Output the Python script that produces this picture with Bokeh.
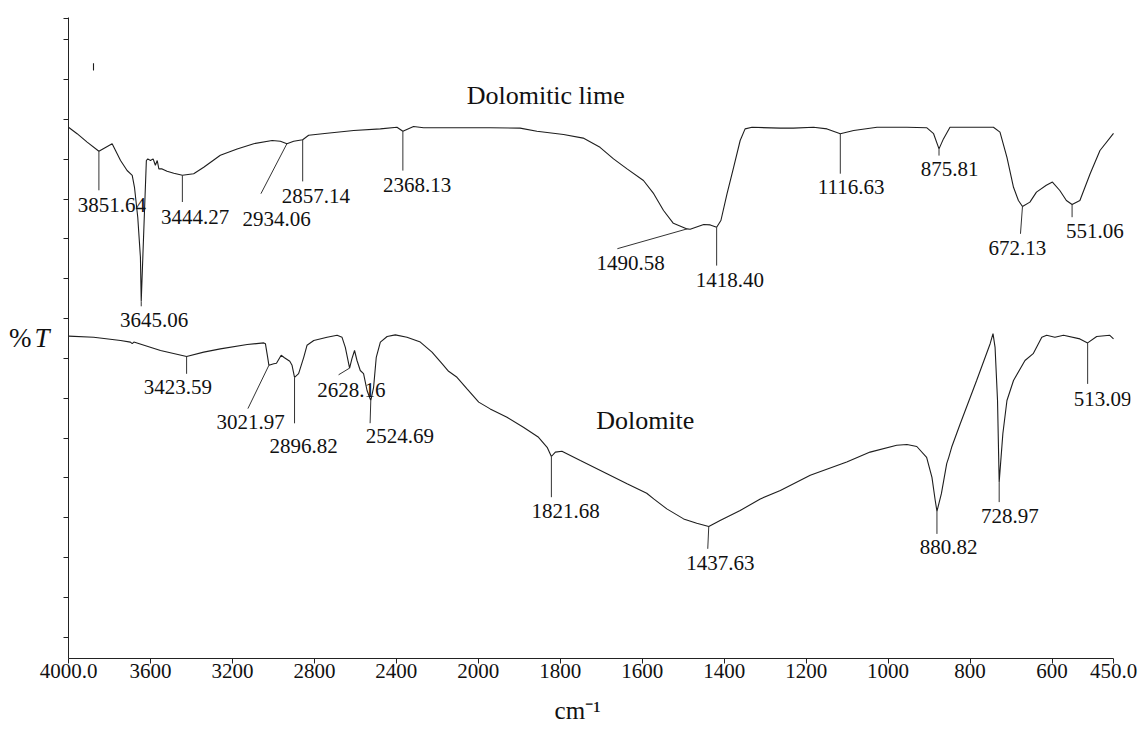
import numpy as np
from bokeh.plotting import figure
from bokeh.models import Range1d, FixedTicker, Label, LabelSet, ColumnDataSource, LinearAxis
from bokeh.core.properties import value
from bokeh.embed import file_html
from bokeh.resources import INLINE

# ---------------- data ----------------
# x axis: wavenumber (cm-1); y axis: %T in arbitrary units
tick_wn = [4000, 3600, 3200, 2800, 2400, 2000, 1800, 1600, 1400, 1200, 1000, 800, 600, 450]
tick_labels = ["4000.0", "3600", "3200", "2800", "2400", "2000", "1800", "1600",
               "1400", "1200", "1000", "800", "600", "450.0"]
x_title = "cm\u207b\u00b9"
y_title_pct = "%"
y_title_T = "T"

lime_name = "Dolomitic lime"
lime_wn = [4000, 3958, 3909, 3851.64, 3787, 3746, 3714, 3689, 3678, 3662, 3649, 3645.06,
           3629, 3620, 3613, 3600, 3587, 3576, 3567, 3559, 3543, 3519, 3486, 3444.27,
           3389, 3340, 3259, 3177, 3096, 3006, 2966, 2934.06, 2901, 2857.14, 2828, 2738,
           2608, 2478, 2397, 2368.13, 2316, 2267, 2153, 1971, 1898, 1857, 1792, 1744,
           1703, 1670, 1637, 1597, 1572, 1548, 1524, 1490.58, 1483, 1450, 1434, 1418.40,
           1408, 1393, 1377, 1361, 1349, 1332, 1263, 1231, 1182, 1149, 1116.63, 1084,
           1027, 954, 906, 889, 875.81, 865, 849, 743, 727, 710, 694, 682, 672.13, 654,
           638, 614, 599, 581, 565, 551.06, 532, 507, 483, 450]
lime_T = [132.8, 131.2, 129.1, 126.8, 128.7, 124.5, 122.0, 120.8, 117.8, 110.3, 100.3, 89.3,
          112.0, 124.5, 124.9, 124.5, 124.9, 123.3, 124.5, 122.4, 122.4, 121.8, 121.3, 120.8,
          121.2, 122.8, 125.8, 127.4, 128.7, 129.5, 129.3, 128.7, 129.3, 129.7, 130.8, 131.3,
          132.0, 132.4, 132.8, 131.8, 133.0, 132.7, 132.7, 132.7, 132.6, 131.8, 131.0, 130.1,
          127.8, 124.9, 122.4, 119.5, 116.2, 112.0, 108.8, 107.4, 107.3, 108.5, 108.4, 107.8,
          109.5, 116.2, 122.8, 129.5, 132.4, 132.8, 132.6, 132.6, 132.8, 132.4, 131.2, 132.0,
          132.8, 132.8, 132.7, 131.2, 127.4, 129.9, 132.8, 132.8, 131.6, 125.3, 117.8, 114.5,
          113.0, 114.1, 116.6, 118.3, 119.1, 117.0, 114.5, 113.5, 114.5, 121.2, 127.0, 131.3]
lime_peaks = [3851.64, 3645.06, 3444.27, 2934.06, 2857.14, 2368.13, 1490.58, 1418.40,
              1116.63, 875.81, 672.13, 551.06]

dolo_name = "Dolomite"
dolo_wn = [4000, 3877, 3746, 3698, 3689, 3681, 3551, 3423.59, 3340, 3259, 3128, 3047, 3039,
           3028, 3021.97, 2998, 2985, 2962, 2946, 2920, 2909, 2896.82, 2877, 2852, 2836, 2803,
           2738, 2689, 2665, 2649, 2628.16, 2617, 2604, 2592, 2576, 2560, 2543, 2524.69, 2511,
           2498, 2478, 2445, 2405, 2348, 2283, 2226, 2177, 2145, 2104, 2055, 1999, 1971, 1930,
           1890, 1853, 1832, 1821.68, 1812, 1796, 1751, 1686, 1637, 1589, 1572, 1540, 1499,
           1467, 1437.63, 1410, 1361, 1312, 1263, 1190, 1101, 1044, 979, 954, 930, 906, 893,
           885, 880.82, 870, 857, 852, 845, 824, 784, 751, 744, 739, 733, 728.97, 720, 710,
           694, 666, 646, 625, 613, 593, 572, 532, 513.09, 491, 459, 450]
dolo_T = [80.6, 80.3, 79.5, 79.1, 78.7, 79.1, 77.0, 75.5, 76.6, 77.4, 78.5, 78.9, 78.7,
          75.3, 73.3, 73.7, 73.8, 75.8, 75.2, 74.3, 73.3, 70.3, 71.2, 75.3, 78.3, 79.5,
          80.3, 80.8, 80.3, 77.8, 72.6, 74.9, 77.0, 74.5, 72.0, 71.2, 67.0, 64.5, 67.8,
          75.3, 79.1, 80.5, 80.9, 80.3, 79.1, 76.6, 73.7, 71.8, 70.3, 67.4, 64.1, 62.4, 60.3,
          57.8, 55.3, 52.8, 50.5, 51.6, 51.8, 49.5, 46.2, 43.7, 41.3, 39.9, 37.4, 34.9,
          33.8, 33.0, 34.5, 37.0, 39.9, 42.0, 45.8, 49.1, 51.6, 53.3, 53.5, 53.0, 50.3, 45.3,
          39.5, 36.8, 41.2, 48.7, 50.3, 52.8, 58.7, 69.5, 78.7, 81.2, 77.8, 64.5, 44.1, 56.2, 64.5,
          69.5, 74.5, 76.2, 80.3, 80.8, 80.3, 80.8, 79.9, 78.9, 80.5, 80.8, 79.9]
dolo_peaks = [3423.59, 3021.97, 2896.82, 2628.16, 2524.69, 1821.68, 1437.63, 880.82,
              728.97, 513.09]

stray_wn = [3878, 3878]
stray_T = [148.8, 147.0]

# ---------------- layout / style ----------------
# annotation placement in screen px relative to the peak point:
# (leader_dx, leader_dy_down, text_dx, text_dy_down)
lime_layout = [(0, 39, 13, 54), (0, 5, 13, 18.5), (0, 26.7, 12.8, 41.5),
               (-26, 50, -10.2, 75.2), (0, 41.7, 13.2, 56.2), (0, 39.3, 14.3, 53.8),
               (-69.7, 19.8, -56.5, 34), (0, 38.3, 13.3, 52.8), (0, 40, 10.8, 53.2),
               (0, 6.7, 10.7, 20.2), (-2, 27.3, -5.2, 41.5), (0, 12.7, 22.7, 26)]
dolo_layout = [(0, 17.3, -8.8, 30.5), (-21, 43.3, -18.3, 56.5), (0, 46, 9, 68.3),
               (-11, 6.7, 1.7, 22.2), (-0.7, 22.7, 29, 35.5), (0, 40.7, 14.3, 54.5),
               (-1, 22.3, 11.7, 36.5), (0, 22.6, 11.8, 35.8), (0, 20, 10.7, 34.3),
               (0, 41, 15, 56.2)]

FONT = "Liberation Serif"
LINE_COLOR = "#1e1e1e"
TEXT_COLOR = "#111111"
AXIS_COLOR = "#222222"
X_TITLE_PAD = "\u00a0" * 7   # shifts the centred x title left, as in the original

X_AXIS_END = 12.75          # axis position of 450 cm-1
Y_MAX = 160.25
W, H = 1144, 731
BL, BR, BT, BB = 68, 14, 17, 73
AXIS_PX = 1045.0            # drawn length of the x axis line
PX_U = AXIS_PX / X_AXIS_END
X_END = (W - BL - BR) / PX_U  # frame reaches past the axis end so labels are not clipped
FRAME_H = H - BT - BB
PX_Y = FRAME_H / Y_MAX


def wn_to_pos(wn):
    """Spectrometer axis: 400 cm-1 per division above 2000, 200 cm-1 per division below."""
    wn = np.asarray(wn, dtype=float)
    return np.where(wn >= 2000, (4000 - wn) / 400.0, 5 + (2000 - wn) / 200.0)


p = figure(width=W, height=H, x_range=Range1d(0, X_END), y_range=Range1d(0, Y_MAX),
           output_backend="svg", toolbar_location=None,
           min_border_left=BL, min_border_right=BR, min_border_top=BT, min_border_bottom=BB)
p.background_fill_color = "white"
p.border_fill_color = "white"
p.outline_line_color = None
p.xgrid.visible = False
p.ygrid.visible = False

# x axis
tick_pos = [float(v) for v in wn_to_pos(tick_wn)]
p.xaxis.bounds = (0, X_AXIS_END)
p.xaxis.ticker = FixedTicker(ticks=tick_pos)
p.xaxis.major_label_overrides = {t: l for t, l in zip(tick_pos, tick_labels)}
p.xaxis.minor_tick_line_color = None
p.xaxis.major_tick_out = 5
p.xaxis.major_tick_in = 0
p.xaxis.major_label_standoff = 0
p.xaxis.major_label_text_font = FONT
p.xaxis.major_label_text_font_size = "21px"
p.xaxis.major_label_text_color = TEXT_COLOR
p.xaxis.axis_line_color = AXIS_COLOR
p.xaxis.major_tick_line_color = AXIS_COLOR
p.xaxis.axis_label = x_title + X_TITLE_PAD
p.xaxis.axis_label_text_font = FONT
p.xaxis.axis_label_text_font_style = "normal"
p.xaxis.axis_label_text_font_size = "25px"
p.xaxis.axis_label_text_color = TEXT_COLOR
p.xaxis.axis_label_standoff = 16

# y axis (ticks only) carrying the italic "T"
y_ticks = [5.325 + 9.957 * k for k in range(16)] + [160.0]
p.yaxis.ticker = FixedTicker(ticks=y_ticks)
p.yaxis.minor_tick_line_color = None
p.yaxis.major_tick_out = 5
p.yaxis.major_tick_in = 0
p.yaxis.major_label_standoff = 0
p.yaxis.major_label_overrides = {t: "" for t in y_ticks}
p.yaxis.axis_line_color = AXIS_COLOR
p.yaxis.major_tick_line_color = AXIS_COLOR
p.yaxis.axis_label = y_title_T
p.yaxis.axis_label_orientation = "horizontal"
p.yaxis.axis_label_text_font = FONT
p.yaxis.axis_label_text_font_style = "italic"
p.yaxis.axis_label_text_font_size = "27px"
p.yaxis.axis_label_text_color = TEXT_COLOR
p.yaxis.axis_label_standoff = 14

# an outer, bare axis carrying the upright "%"
pct_axis = LinearAxis(ticker=FixedTicker(ticks=[]), axis_line_color=None,
                      major_tick_line_color=None, minor_tick_line_color=None,
                      major_label_standoff=0, axis_label=y_title_pct,
                      axis_label_orientation="horizontal", axis_label_text_font=FONT,
                      axis_label_text_font_style="normal", axis_label_text_font_size="27px",
                      axis_label_text_color=TEXT_COLOR, axis_label_standoff=0)
p.add_layout(pct_axis, "left")

# spectra
p.line(wn_to_pos(lime_wn), lime_T, line_color=LINE_COLOR, line_width=1.1)
p.line(wn_to_pos(dolo_wn), dolo_T, line_color=LINE_COLOR, line_width=1.1)
p.line(wn_to_pos(stray_wn), stray_T, line_color=LINE_COLOR, line_width=1.1)


def annotate(wn, T, peaks, layout):
    wn = np.asarray(wn, float)
    T = np.asarray(T, float)
    x0, y0, x1, y1, tx, ty, txt = [], [], [], [], [], [], []
    for pk, (ldx, ldy, tdx, tdy) in zip(peaks, layout):
        cx = float(wn_to_pos(pk))
        cy = float(np.interp(pk, wn[::-1], T[::-1]))
        x0.append(cx)
        y0.append(cy)
        x1.append(cx + ldx / PX_U)
        y1.append(cy - ldy / PX_Y)
        tx.append(cx + tdx / PX_U)
        ty.append(cy - tdy / PX_Y)
        txt.append(f"{pk:.2f}")
    p.segment(x0, y0, x1, y1, line_color="#333333", line_width=1)
    src = ColumnDataSource(dict(x=tx, y=ty, text=txt))
    p.add_layout(LabelSet(x="x", y="y", text="text", source=src, text_font=FONT,
                          text_font_size="21px", text_align="center",
                          text_baseline="middle", text_color=TEXT_COLOR))


annotate(lime_wn, lime_T, lime_peaks, lime_layout)
annotate(dolo_wn, dolo_T, dolo_peaks, dolo_layout)

# series names
p.add_layout(Label(x=float(wn_to_pos(1835.4)), y=140.75, text=lime_name, text_font=FONT,
                   text_font_size="26px", text_align="center", text_baseline="middle",
                   text_color=TEXT_COLOR))
p.add_layout(Label(x=float(wn_to_pos(1592.6)), y=59.5, text=dolo_name, text_font=FONT,
                   text_font_size="26px", text_align="center", text_baseline="middle",
                   text_color=TEXT_COLOR))

open("out.html", "w").write(file_html(p, INLINE))
